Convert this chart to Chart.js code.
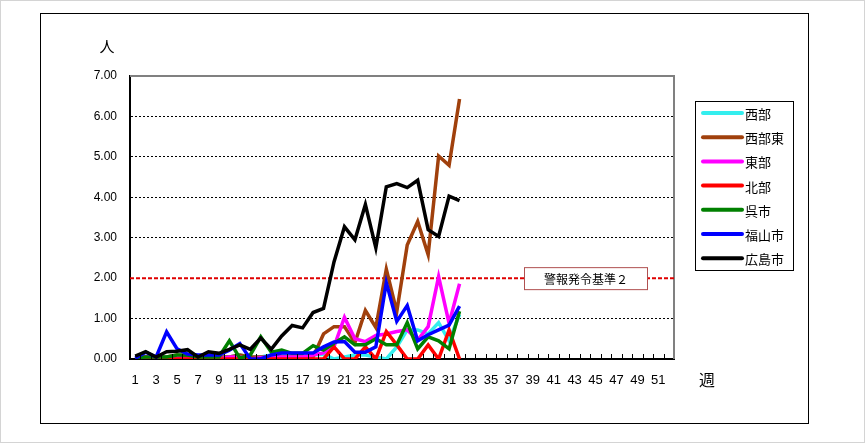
<!DOCTYPE html>
<html>
<head>
<meta charset="utf-8">
<script src="https://cdn.jsdelivr.net/npm/chart.js@4"></script>
<style>
  html, body { margin: 0; padding: 0; background: #fff; }
  canvas { display: block; }
</style>
</head>
<body>
<canvas id="chart" width="865" height="443"></canvas>
<script>
// weeks 1..52
const weeks = [];
for (let w = 1; w <= 52; w++) weeks.push(String(w));

const seriesNames = ['西部', '西部東', '東部', '北部', '呉市', '福山市', '広島市'];
const seriesColors = ['#33eeee', '#a0400c', '#ff00ff', '#ff0000', '#008000', '#0000ff', '#000000'];

// per-week values (人), weeks 1..32
const seibu = [0.05,0.05,0.03,0.05,0.05,0.05,0.05,0.03,0.05,0.05,0.1,0.05,0.05,0.1,0.1,0.1,0.1,0.1,0.12,0,0.05,0.1,0.1,0.05,0,0.3,0.72,0.72,0.62,0.9,0.45,1.1];
const seibuHigashi = [0.03,0.05,0.03,0.05,0.1,0.05,0.05,0.03,0.05,0.05,0.1,0.05,0.05,0.05,0.05,0.05,0.05,0.05,0.62,0.8,0.8,0.4,1.2,0.78,2.22,1.17,2.82,3.4,2.58,5.02,4.79,6.43];
const toubu = [0,0.05,0,0,0.03,0,0,0.03,0,0.05,0.05,0,0.03,0.05,0.05,0.05,0.05,0.1,0.15,0.3,1.03,0.5,0.43,0.58,0.62,0.68,0.72,0.47,0.8,2.04,0.88,1.86];
const hokubu = [0,0.05,0,0,0,0,0,0,0,0,0,0,0,0,0,0,0,0,0,0.3,0,0,0.3,0,0.68,0.35,0,0,0.35,0,0.72,0];
const kure = [0.03,0.05,0.05,0.05,0.1,0.1,0.05,0.05,0.05,0.45,0.02,0.1,0.55,0.17,0.22,0.14,0.14,0.33,0.22,0.39,0.55,0.35,0.35,0.5,0.35,0.35,0.9,0.25,0.55,0.45,0.25,1.18];
const fukuyama = [0.02,0.17,0.05,0.67,0.25,0.12,0.1,0.1,0.1,0.22,0.38,0,0,0.1,0.15,0.15,0.15,0.15,0.3,0.42,0.43,0.17,0.17,0.3,1.89,0.93,1.32,0.45,0.6,0.72,0.84,1.31];
const hiroshima = [0.07,0.18,0.05,0.18,0.19,0.23,0.05,0.18,0.14,0.24,0.35,0.24,0.52,0.24,0.57,0.83,0.77,1.15,1.25,2.4,3.27,2.95,3.82,2.75,4.26,4.34,4.24,4.42,3.2,3.03,4.03,3.92];
const seriesValues = [seibu, seibuHigashi, toubu, hokubu, kure, fukuyama, hiroshima];

const alertLevel = 2;
const alertLabel = '警報発令基準２';
const yTicks = [0, 1, 2, 3, 4, 5, 6, 7];

const jp = '"Noto Sans CJK JP", sans-serif';

const datasets = seriesNames.map((name, i) => ({
    label: name,
    data: seriesValues[i],
    borderColor: seriesColors[i],
    backgroundColor: seriesColors[i],
    borderWidth: 3.5,
    pointRadius: 0,
    tension: 0,
    order: seriesNames.length - i  // later series on top, like Excel
}));

const framePlugin = {
    id: 'frame',
    beforeDraw(chart) {
        const ctx = chart.ctx;
        ctx.save();
        ctx.fillStyle = '#fff';
        ctx.fillRect(0, 0, chart.width, chart.height);
        ctx.strokeStyle = '#d4d4d4';
        ctx.lineWidth = 1;
        ctx.strokeRect(0.5, 0.5, chart.width - 1, chart.height - 1);
        ctx.strokeStyle = '#000';
        ctx.strokeRect(40.5, 13.5, 768, 410);
        ctx.restore();
    },
    beforeDatasetsDraw(chart) {
        const ctx = chart.ctx;
        const a = chart.chartArea;
        const y = chart.scales.y.getPixelForValue(alertLevel);
        ctx.save();
        // gray top / right border of plot
        ctx.strokeStyle = '#808080';
        ctx.lineWidth = 2;
        ctx.beginPath();
        ctx.moveTo(a.left, a.top);
        ctx.lineTo(a.right, a.top);
        ctx.lineTo(a.right, a.bottom);
        ctx.stroke();
        // alert level line
        ctx.strokeStyle = '#e00000';
        ctx.lineWidth = 2;
        ctx.setLineDash([4, 2]);
        ctx.beginPath();
        ctx.moveTo(a.left, y);
        ctx.lineTo(a.right, y);
        ctx.stroke();
        ctx.restore();
    },
    afterDraw(chart) {
        const ctx = chart.ctx;
        const a = chart.chartArea;
        ctx.save();
        // inward tick marks between categories
        ctx.strokeStyle = '#000';
        ctx.lineWidth = 1;
        ctx.beginPath();
        const step = (a.right - a.left) / weeks.length;
        for (let i = 1; i < weeks.length; i++) {
            const x = Math.round(a.left + i * step) + 0.5;
            ctx.moveTo(x, a.bottom);
            ctx.lineTo(x, a.bottom - 5);
        }
        ctx.stroke();

        // alert label box
        const y = chart.scales.y.getPixelForValue(alertLevel);
        ctx.fillStyle = '#fff';
        ctx.fillRect(524, y - 11, 124, 22);
        ctx.strokeStyle = '#b05050';
        ctx.strokeRect(524.5, y - 10.5, 123, 22);
        ctx.fillStyle = '#000';
        ctx.font = '12px ' + jp;
        ctx.textAlign = 'center';
        ctx.textBaseline = 'middle';
        ctx.fillText(alertLabel, 586, y + 1);

        // axis titles
        ctx.font = '15px ' + jp;
        ctx.fillText('人', 107, 46);
        ctx.font = '16px ' + jp;
        ctx.fillText('週', 707, 380);

        // legend
        ctx.strokeStyle = '#000';
        ctx.lineWidth = 1;
        ctx.strokeRect(695.5, 101.5, 98, 169);
        ctx.font = '13px ' + jp;
        ctx.textAlign = 'left';
        seriesNames.forEach((name, i) => {
            const ly = 113 + i * 24.2;
            ctx.strokeStyle = seriesColors[i];
            ctx.lineWidth = 4;
            ctx.lineCap = 'round';
            ctx.beginPath();
            ctx.moveTo(703, ly);
            ctx.lineTo(742, ly);
            ctx.stroke();
            ctx.fillStyle = '#000';
            ctx.fillText(name, 745, ly + 1);
        });
        ctx.restore();
    }
};

new Chart(document.getElementById('chart'), {
    type: 'line',
    data: { labels: weeks, datasets: datasets },
    options: {
        responsive: false,
        animation: false,
        layout: { padding: { left: 70, top: 76, right: 191, bottom: 0 } },
        plugins: { legend: { display: false }, tooltip: { enabled: false } },
        scales: {
            x: {
                offset: true,
                grid: { display: false },
                border: { display: true, color: '#000', width: 2 },
                ticks: {
                    autoSkip: false,
                    maxRotation: 0,
                    padding: 6,
                    color: '#000',
                    font: { family: 'Liberation Sans Narrow, Liberation Sans, sans-serif', size: 13 },
                    callback: (v, i) => (i % 2 === 0 ? weeks[i] : '')
                },
                afterFit: s => { s.height = 84; }
            },
            y: {
                min: 0,
                max: 7,
                afterBuildTicks: s => { s.ticks = yTicks.map(v => ({ value: v })); },
                grid: {
                    color: c => (c.tick && [0, alertLevel, 7].includes(c.tick.value)) ? 'rgba(0,0,0,0)' : '#000',
                    lineWidth: 1,
                    drawTicks: false
                },
                // in v4 border.dash styles the grid lines; the axis line stays solid
                border: { display: true, color: '#000', width: 2, dash: [2, 2] },
                ticks: {
                    padding: 13,
                    color: '#000',
                    font: { family: 'Liberation Sans, sans-serif', size: 12 },
                    callback: v => Number(v).toFixed(2)
                },
                afterFit: s => { s.width = 60; }
            }
        }
    },
    plugins: [framePlugin]
});
</script>
</body>
</html>
